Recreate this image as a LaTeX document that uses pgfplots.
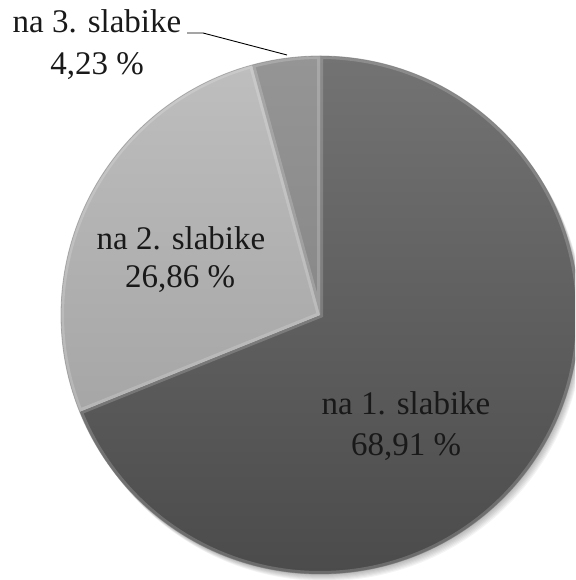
\documentclass[border=0pt]{standalone}
\usepackage{fontspec}
\setmainfont{Liberation Serif}
\usepackage{pgfplots}
\usepackage{pgfplotstable}
\pgfplotsset{compat=1.18}

% Share of stressed syllable position (percent)
\pgfplotstableread{
share
68.91
26.86
4.23
}\sharetable

\pgfkeys{/pgf/number format/.cd, use comma, fixed, precision=2, fixed zerofill, assume math mode=true}

\definecolor{sliceAtop}{HTML}{737373}
\definecolor{sliceAbot}{HTML}{4B4B4B}
\definecolor{sliceBtop}{HTML}{BEBEBE}
\definecolor{sliceBbot}{HTML}{A6A6A6}
\definecolor{sliceCtop}{HTML}{959595}
\definecolor{sliceCbot}{HTML}{888888}

% a pie slice around (320,265) from angle #1 to angle #2
\newcommand\slice[2]{(axis cs:320,265) -- ++(#1:259pt) arc[start angle=#1, end angle=#2, radius=259pt] -- cycle}

\begin{document}
\begin{tikzpicture}
% slice values and angles (clockwise from 12 o'clock)
\pgfplotstablegetelem{0}{share}\of\sharetable \let\sA\pgfplotsretval
\pgfplotstablegetelem{1}{share}\of\sharetable \let\sB\pgfplotsretval
\pgfplotstablegetelem{2}{share}\of\sharetable \let\sC\pgfplotsretval
\pgfmathsetmacro\aA{90-3.6*\sA}
\pgfmathsetmacro\aB{\aA-3.6*\sB}
\pgfmathsetmacro\aC{\aB-3.6*\sC}
\begin{axis}[
  width=575pt, height=580pt, scale only axis,
  xmin=0, xmax=575, ymin=0, ymax=580,
  hide axis, clip=true,
]
  % soft shadow below the pie
  \pgfplotsinvokeforeach{1,...,7}{
    \fill[black, opacity=0.045] (axis cs:320+0.7*#1,265-1.0*#1) circle[radius=259pt];
  }
  % slices
  \shade[top color=sliceAtop, bottom color=sliceAbot] \slice{90}{\aA};
  \shade[top color=sliceBtop, bottom color=sliceBbot] \slice{\aA}{\aB};
  \shade[top color=sliceCtop, bottom color=sliceCbot] \slice{\aB}{\aC};
  % bevelled rims
  \begin{scope}\clip \slice{90}{\aA};
    \draw[white, opacity=0.18, line width=6pt] \slice{90}{\aA};\end{scope}
  \begin{scope}\clip \slice{\aA}{\aB};
    \draw[white, opacity=0.18, line width=6pt] \slice{\aA}{\aB};\end{scope}
  \begin{scope}\clip \slice{\aB}{\aC};
    \draw[white, opacity=0.18, line width=6pt] \slice{\aB}{\aC};\end{scope}
  \draw[black!55, opacity=0.5, line width=0.8pt] (axis cs:320,265) circle[radius=259pt];
  % labels
  \begin{scope}[every node/.style={font=\fontsize{33}{40}\selectfont, text=black!90, inner sep=0pt, anchor=base}]
    \node at (axis cs:406,165) {na 1. slabike};
    \node at (axis cs:406,124) {\pgfmathprintnumber{\sA} \%};
    \node at (axis cs:181,330) {na 2. slabike};
    \node at (axis cs:180,292) {\pgfmathprintnumber{\sB} \%};
    \node at (axis cs:97,547) {na 3. slabike};
    \node at (axis cs:97,505) {\pgfmathprintnumber{\sC} \%};
  \end{scope}
  \draw[black, line width=0.9pt] (axis cs:187,547) -- (axis cs:203,547) -- (axis cs:287,525);
\end{axis}
\pgfresetboundingbox
\path (current axis.south west) rectangle (current axis.north east);
\end{tikzpicture}
\end{document}
